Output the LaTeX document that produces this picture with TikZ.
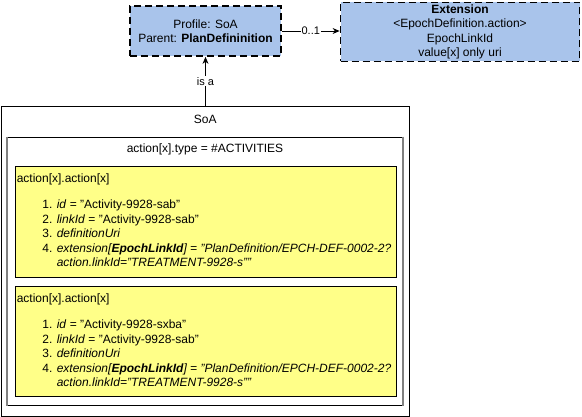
\documentclass[tikz,border=0pt]{standalone}
\usepackage{fontspec}
\setmainfont{Liberation Sans}
\usetikzlibrary{arrows.meta}
\definecolor{profileblue}{HTML}{A9C4EB}
\definecolor{noteyellow}{HTML}{FFFF88}
\definecolor{sidegray}{HTML}{808080}

\begin{document}
\begin{tikzpicture}[x=1pt,y=-1pt,>={Stealth[length=7pt,width=6pt]},
  font=\fontsize{12}{14.4}\selectfont,
  profilebox/.style={draw, line width=1.8pt, dash pattern=on 7pt off 4pt, fill=profileblue, align=center, inner sep=0pt},
  container/.style={draw, line width=0.8pt, inner sep=0pt},
  notebox/.style={draw, line width=0.8pt, fill=noteyellow, inner sep=0pt, minimum width=381pt},
  edgelabel/.style={fill=white, inner sep=1pt, font=\fontsize{11}{13}\selectfont},
  txt/.style={inner sep=0pt, text height=9pt, text depth=3pt, anchor=west},
  num/.style={inner sep=0pt, text height=9pt, text depth=3pt, anchor=east}]
\useasboundingbox (0,0) rectangle (582,417);

%Profil oben links, Extension oben rechts
\node[profilebox, minimum width=151pt, minimum height=50pt] (profile) at (205.5,31)
  {Profile: SoA\\Parent: \textbf{PlanDefininition}};
\node[profilebox, minimum width=239pt, minimum height=59pt, font=\fontsize{12}{14.3}\selectfont] (extension) at (460,32)
  {\textbf{Extension}\\<EpochDefinition.action>\\EpochLinkId\\value[x] only uri};

%Container SoA mit innerem Rahmen
\node[container, minimum width=408.5pt, minimum height=310pt] (soa) at (205.25,261) {};
\node[anchor=north, inner sep=0pt] (soatitle) at ([yshift=-9pt]soa.north) {SoA};
\node[container, minimum width=396pt, minimum height=268.5pt] (activities) at (205,271.25) {};
\draw[sidegray, line width=2pt] (activities.north west) -- (activities.south west);
\draw[sidegray, line width=2pt] (activities.north east) -- (activities.south east);
\node[anchor=north, inner sep=0pt] (activitiestitle) at ([yshift=-7pt]activities.north) {action[x].type = \#ACTIVITIES};

%gelbe Kaesten
\node[notebox, minimum height=111pt] (actionA) at (205.5,221.5) {};
\node[notebox, minimum height=110pt] (actionB) at (205.5,341) {};

\newcommand\actionlist[2]{%
  \node[txt] (#1head) at ([xshift=2pt,yshift=-14pt]#1.north west) {action[x].action[x]};
  \foreach \i/\dy in {1/40,2/54.5,3/69,4/83.5}
    \node[num] (#1n\i) at ([xshift=38pt,yshift=-\dy pt]#1.north west) {\i.};
  \node[txt] (#1t1) at ([xshift=4pt]#1n1.east) {\textit{id} = "#2"};
  \node[txt] (#1t2) at ([xshift=4pt]#1n2.east) {\textit{linkId} = "Activity-9928-sab"};
  \node[txt] (#1t3) at ([xshift=4pt]#1n3.east) {\textit{definitionUri}};
  \node[txt] (#1t4) at ([xshift=4pt]#1n4.east) {\textit{extension[\textbf{EpochLinkId}] = "PlanDefinition/EPCH-DEF-0002-2?}};
  \node[txt] (#1t5) at ([yshift=-14pt]#1t4.west) {\textit{action.linkId="TREATMENT-9928-s""}};
}
\actionlist{actionA}{Activity-9928-sab}
\actionlist{actionB}{Activity-9928-sxba}

%Verbindungen
\draw[->, line width=0.8pt] (profile) -- node[edgelabel] (cardinality) {0..1} (profile -| extension.west);
\draw[->, line width=0.8pt] (profile |- soa.north) -- node[edgelabel] (isa) {is a} (profile.south);

\end{tikzpicture}
\end{document}
